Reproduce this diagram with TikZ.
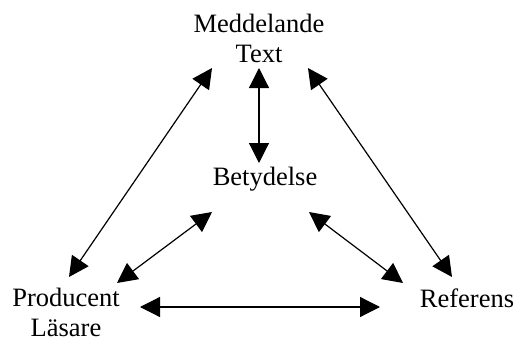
\documentclass[tikz,border=0pt]{standalone}
\usepackage{fontspec}
\setmainfont{Liberation Serif}
\usetikzlibrary{arrows.meta}
\begin{document}
\begin{tikzpicture}[x=1pt,y=-1pt,
  lbl/.style={inner sep=0pt,font=\fontsize{26.5}{30}\selectfont,align=center},
  link/.style={line width=1.2pt,{Triangle[length=20pt,width=20pt]}-{Triangle[length=20pt,width=20pt]}}]
\useasboundingbox (0,0) rectangle (515,340);
\node[lbl,anchor=base] (med) at (259,62) {Meddelande\\Text};
\node[lbl,anchor=base] (bet) at (265,185) {Betydelse};
\node[lbl,anchor=base] (pro) at (66,336) {Producent\\Läsare};
\node[lbl,anchor=base] (ref) at (467,307) {Referens};
\coordinate (a1) at (212,68);  \coordinate (a2) at (69,277);
\coordinate (b1) at (259,68);  \coordinate (b2) at (259,163);
\coordinate (c1) at (308,68);  \coordinate (c2) at (452,277);
\coordinate (d1) at (212,212); \coordinate (d2) at (117,283);
\coordinate (e1) at (309,212); \coordinate (e2) at (403,283);
\coordinate (f1) at (140,307); \coordinate (f2) at (380,307);
\draw[link] (a1) -- (a2);
\draw[link] (b1) -- (b2);
\draw[link] (c1) -- (c2);
\draw[link] (d1) -- (d2);
\draw[link] (e1) -- (e2);
\draw[link] (f1) -- (f2);
\end{tikzpicture}
\end{document}
